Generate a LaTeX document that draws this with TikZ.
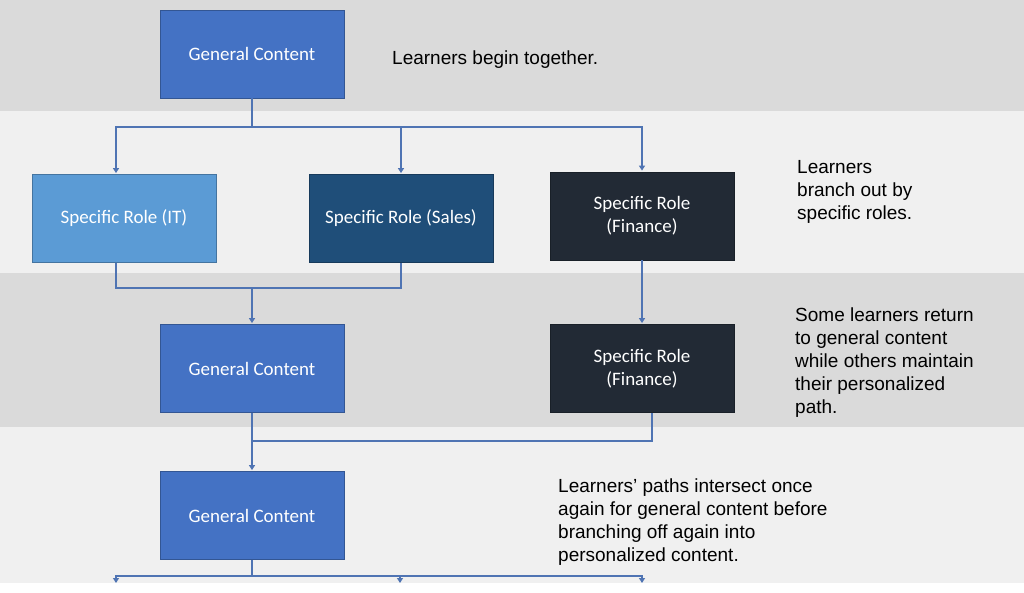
\documentclass[tikz,border=0pt]{standalone}
\usepackage{fontspec}
\setmainfont{Liberation Sans}
\newfontfamily\boxfont{Carlito}
\usetikzlibrary{positioning,arrows.meta}

\definecolor{bandgray}{HTML}{DADADA}
\definecolor{bandlight}{HTML}{F0F0F0}
\definecolor{gcblue}{HTML}{4472C4}
\definecolor{itblue}{HTML}{5B9BD5}
\definecolor{salesblue}{HTML}{1F4E79}
\definecolor{finnavy}{HTML}{222A35}
\definecolor{linkblue}{HTML}{4F74B3}

\tikzset{
  stagebox/.style={draw=#1!75!black, fill=#1, line width=0.8pt,
    minimum width=184pt, minimum height=88pt, inner sep=0pt,
    text=white, align=center, font=\boxfont\fontsize{19}{23}\selectfont},
  link/.style={draw=linkblue, line width=1.8pt},
  linkarrow/.style={link, -{Triangle[width=6pt,length=5pt]}, shorten >=1pt},
  note/.style={inner sep=0pt, align=left, anchor=north west,
    font=\fontsize{19}{23}\selectfont}
}

\begin{document}
\begin{tikzpicture}[x=1pt,y=-1pt]
\useasboundingbox (0,0) rectangle (1024,593);
% background bands
\fill[white] (0,0) rectangle (1024,593);
\fill[bandgray] (0,0) rectangle (1024,111);
\fill[bandlight] (0,111) rectangle (1024,273);
\fill[bandgray] (0,273) rectangle (1024,427);
\fill[bandlight] (0,427) rectangle (1024,583);

% boxes
\node[stagebox=gcblue] (gc1) at (252,54) {General Content};
\node[stagebox=itblue] (it) at (124,218.5) {Specific Role (IT)};
\node[stagebox=salesblue] (sales) at (401,218.5) {Specific Role (Sales)};
\node[stagebox=finnavy] (fin1) at (642,216) {Specific Role\\(Finance)};
\node[stagebox=gcblue] (gc2) at (252,368.5) {General Content};
\node[stagebox=finnavy] (fin2) at (642,368.5) {Specific Role\\(Finance)};
\node[stagebox=gcblue] (gc3) at (252,515.5) {General Content};

% notes
\node[note, anchor=west] (note1) at (392,60) {Learners begin together.};
\node[note] (note2) at (797,160) {Learners\\branch out by\\specific roles.};
\node[note] (note3) at (795,308) {Some learners return\\to general content\\while others maintain\\their personalized\\path.};
\node[note] (note4) at (558,479) {Learners’ paths intersect once\\again for general content before\\branching off again into\\personalized content.};

% connectors
\coordinate (split1) at (252,127);
\coordinate (merge1) at (252,288);
\coordinate (merge2) at (252,441);
\coordinate (split3) at (252,576);
\coordinate (out1) at (116,584);
\coordinate (out2) at (400,584);
\coordinate (out3) at (642,584);

\draw[link] (gc1.south) -- (split1);
\draw[linkarrow] (split1) -| ([xshift=-8pt]it.north);
\draw[linkarrow] (split1) -| (sales.north);
\draw[linkarrow] (split1) -| (fin1.north);

\draw[link] ([xshift=-8pt]it.south) |- (merge1) -| (sales.south);
\draw[linkarrow] (merge1) -- (gc2.north);
\draw[linkarrow] (fin1.south) -- (fin2.north);

\draw[link] (gc2.south) -- (merge2) -| ([xshift=10pt]fin2.south);
\draw[linkarrow] (merge2) -- (gc3.north);

\draw[link] (gc3.south) -- (split3);
\draw[linkarrow] (split3) -| (out1);
\draw[linkarrow] (split3) -| (out2);
\draw[linkarrow] (split3) -| (out3);
\end{tikzpicture}
\end{document}
